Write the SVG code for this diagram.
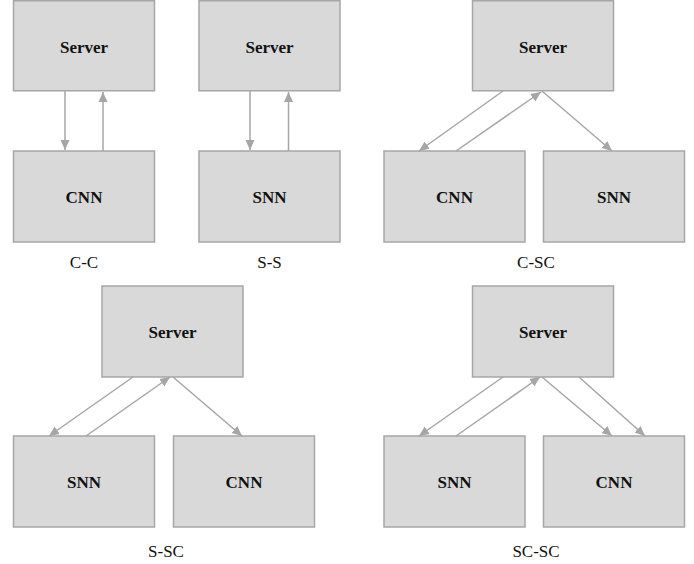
<svg xmlns="http://www.w3.org/2000/svg" width="694" height="564" viewBox="0 0 694 564">
<style>
.box{fill:#d9d9d9;stroke:#a6a6a6;stroke-width:1.5}
.lbl{font-family:"Liberation Serif","Times New Roman",Times,"DejaVu Serif","Noto Serif",serif;font-weight:bold;font-size:17px;fill:#111;text-anchor:middle}
.cap{font-family:"Liberation Serif","Times New Roman",Times,"DejaVu Serif","Noto Serif",serif;font-size:17px;fill:#111;text-anchor:middle}
.edge{stroke:#a6a6a6;stroke-width:1.5;fill:none;marker-end:url(#ah)}
</style>
<defs>
<marker id="ah" markerUnits="userSpaceOnUse" markerWidth="10" markerHeight="10" viewBox="0 0 10 10" refX="10" refY="5" orient="auto">
<path d="M0,0.5 L10,5 L0,9.5 Z" fill="#a6a6a6"/>
</marker>
</defs>
<rect width="694" height="564" fill="#fff"/>

<g id="cc-server"><rect class="box" x="13.5" y="0.75" width="141" height="90"/><text class="lbl" x="84" y="53">Server</text></g>
<g id="cc-cnn"><rect class="box" x="13.5" y="151" width="141" height="91"/><text class="lbl" x="84" y="203">CNN</text></g>
<g id="ss-server"><rect class="box" x="199" y="0.75" width="141" height="90"/><text class="lbl" x="269.5" y="53">Server</text></g>
<g id="ss-snn"><rect class="box" x="199" y="151" width="141" height="91"/><text class="lbl" x="269.5" y="203">SNN</text></g>
<g id="csc-server"><rect class="box" x="472.5" y="0.75" width="141" height="90"/><text class="lbl" x="543" y="53">Server</text></g>
<g id="csc-cnn"><rect class="box" x="384" y="151" width="141" height="91"/><text class="lbl" x="454.5" y="203">CNN</text></g>
<g id="csc-snn"><rect class="box" x="543.5" y="151" width="141" height="91"/><text class="lbl" x="614" y="203">SNN</text></g>
<g id="ssc-server"><rect class="box" x="102" y="286" width="141" height="91"/><text class="lbl" x="172.5" y="338">Server</text></g>
<g id="ssc-snn"><rect class="box" x="13.5" y="436" width="141" height="91"/><text class="lbl" x="84" y="488">SNN</text></g>
<g id="ssc-cnn"><rect class="box" x="173.5" y="436" width="141" height="91"/><text class="lbl" x="244" y="488">CNN</text></g>
<g id="scsc-server"><rect class="box" x="472.5" y="286" width="141" height="91"/><text class="lbl" x="543" y="338">Server</text></g>
<g id="scsc-snn"><rect class="box" x="384" y="436" width="141" height="91"/><text class="lbl" x="454.5" y="488">SNN</text></g>
<g id="scsc-cnn"><rect class="box" x="543.5" y="436" width="141" height="91"/><text class="lbl" x="614" y="488">CNN</text></g>

<g id="connectors">
<line class="edge" x1="65" y1="91" x2="65" y2="150"/>
<line class="edge" x1="103" y1="151" x2="103" y2="92"/>
<line class="edge" x1="250" y1="91" x2="250" y2="150"/>
<line class="edge" x1="288.5" y1="151" x2="288.5" y2="92"/>
<line class="edge" x1="503" y1="91" x2="419" y2="151"/>
<line class="edge" x1="456" y1="151" x2="541" y2="92"/>
<line class="edge" x1="542" y1="91" x2="612" y2="151"/>
<line class="edge" x1="133" y1="377" x2="49" y2="436"/>
<line class="edge" x1="86" y1="436" x2="170" y2="377"/>
<line class="edge" x1="173" y1="377" x2="242" y2="436"/>
<line class="edge" x1="503" y1="377" x2="419" y2="436"/>
<line class="edge" x1="456" y1="436" x2="540" y2="377"/>
<line class="edge" x1="542" y1="377" x2="612" y2="436"/>
<line class="edge" x1="579" y1="377" x2="645" y2="436"/>
</g>

<g id="captions">
<text class="cap" x="84" y="268">C-C</text>
<text class="cap" x="269.5" y="268">S-S</text>
<text class="cap" x="536" y="268">C-SC</text>
<text class="cap" x="166" y="557">S-SC</text>
<text class="cap" x="536" y="557">SC-SC</text>
</g>
</svg>
